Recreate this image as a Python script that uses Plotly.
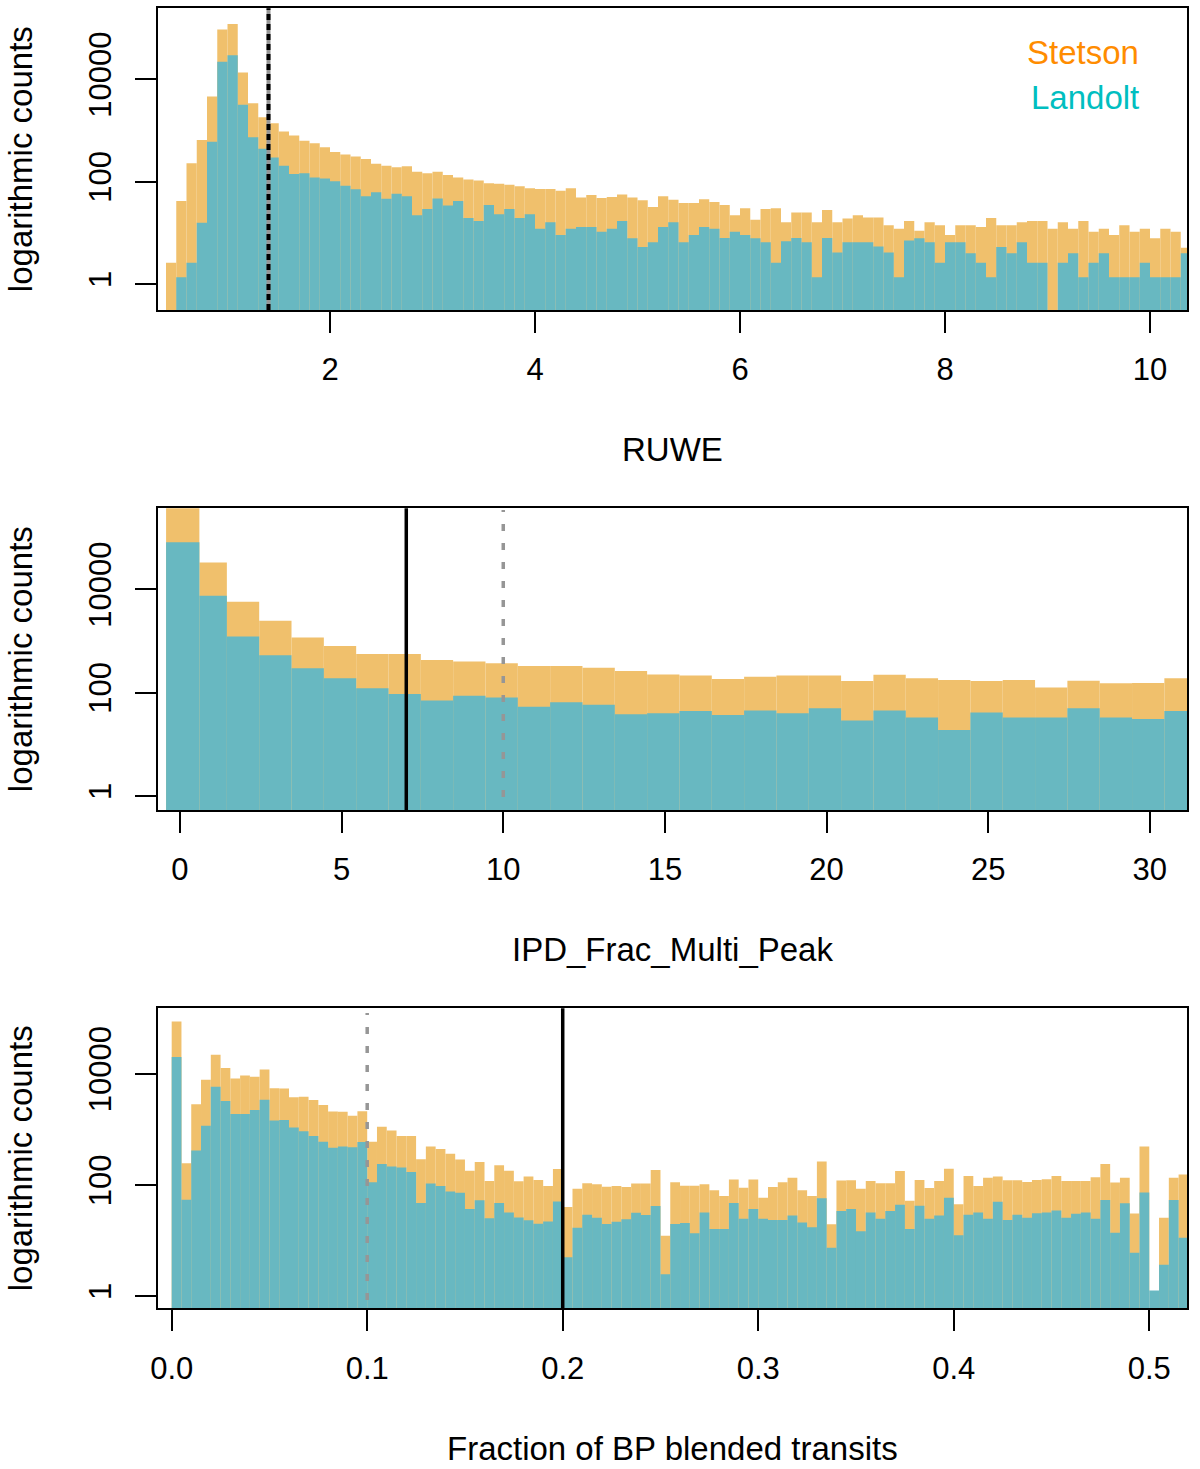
import plotly.graph_objects as go

# ---------------- Panel 1: RUWE (bin width 0.1 starting at 0.4) ----------------
ruwe_first_edge = 0.4
ruwe_bin_width = 0.1
stetson_ruwe = [2.6, 42, 228, 646, 4570, 93300, 120000, 13500, 3390, 1800,
                1380, 955, 794, 631, 562, 468, 380, 339, 309, 275,
                224, 204, 191, 200, 155, 145, 155, 135, 120, 110,
                105, 93, 91, 87, 81, 74, 72, 72, 66, 74,
                49, 55, 48, 50, 56, 49, 43, 32, 52, 44,
                38, 38, 45, 40, 35, 22, 30, 18, 29, 30,
                16, 25, 25, 16, 28, 16, 19, 22, 20, 20,
                14, 12, 17, 11, 16, 14, 9.1, 14, 14, 13,
                19.5, 14, 14, 16, 17, 17, 12, 16, 12, 17,
                10.5, 12, 9.1, 14, 10.5, 12, 7.8, 12, 10.5, 5.1]
landolt_ruwe = [None, 1.35, 2.6, 15.7, 600, 21900, 29500, 3160, 733, 436,
                295, 204, 141, 145, 120, 115, 102, 83, 71, 52,
                62, 46, 58, 52, 22, 29, 47, 34, 42, 19.5,
                17, 35, 23, 29, 19.5, 23, 12, 16, 9.1, 12,
                13, 13, 10.5, 12, 17, 7.8, 5.3, 6.5, 13, 16,
                6.5, 9.1, 13, 12, 7.9, 10.5, 9.1, 7.8, 6.5, 2.6,
                6.8, 7.9, 6.5, 1.35, 7.9, 4.1, 6.5, 6.5, 6.5, 5.4,
                4.1, 1.35, 7.1, 7.8, 6.5, 2.6, 6.5, 6.5, 4.0, 2.6,
                1.35, 5.3, 4.0, 6.5, 2.6, 2.6, None, 2.6, 4.0, 1.35,
                2.6, 4.0, 1.35, 1.35, 1.35, 2.6, 1.35, 1.35, 1.35, 4.0]
ruwe_cut = 1.4
ruwe_ticks = [2, 4, 6, 8, 10]

# ---------------- Panel 2: IPD_Frac_Multi_Peak ----------------
ipd_edges = [-0.43, 0.6] + [k + 0.45 for k in range(1, 32)]
stetson_ipd = [570000, 33000, 5740, 2460, 1170, 795, 560, 560, 427, 398,
               370, 326, 326, 303, 262, 225, 213, 183, 203, 213,
               213, 167, 222, 190, 175, 167, 175, 126, 170, 151,
               154, 190]
landolt_ipd = [81000, 7450, 1210, 525, 295, 190, 121, 94, 70, 87,
               80, 53, 65, 58, 38, 40, 44, 37, 45, 40,
               50, 29, 45, 33, 19, 41, 33, 33, 50, 33,
               31, 44]
ipd_cut_strict = 7
ipd_cut_loose = 10
ipd_ticks = [0, 5, 10, 15, 20, 25, 30]

# ---------------- Panel 3: Fraction of BP blended transits (bin 0.005) ----------------
blend_first_edge = 0.0
blend_bin_width = 0.005
stetson_blend = [87500, 246, 2840, 7800, 22000, 12800, 8250, 9300, 8850, 12000,
                 5500, 5450, 3800, 3850, 3370, 2750, 2100, 2080, 1750, 2130,
                 600, 1110, 950, 760, 760, 290, 490, 445, 365, 287,
                 180, 258, 118, 226, 180, 116, 141, 123, 96, 194,
                 40, 85, 107, 103, 93, 96, 92, 106, 106, 186,
                 12.2, 112, 97, 97, 103, 80, 63, 125, 89, 125,
                 59, 92, 112, 134, 80, 63, 263, 19.6, 120, 121,
                 85, 117, 107, 107, 178, 52, 123, 88, 117, 196,
                 45, 145, 96, 134, 141, 121, 121, 113, 123, 126,
                 145, 118, 118, 118, 137, 239, 110, 134, 30.5, 490,
                 None, 25.7, 134, 154]
landolt_blend = [20000, 54, 415, 1160, 5850, 3250, 1900, 1900, 2240, 3400,
                 1440, 1470, 1080, 925, 760, 600, 465, 490, 478, 590,
                 112, 239, 214, 205, 171, 47, 106, 96, 76, 72,
                 37, 53, 25, 47, 32, 26, 23, 20, 22, 50,
                 5, 17, 29, 25.5, 19.8, 21.8, 24, 31.4, 28.8, 41.8,
                 2.46, 19.8, 20.7, 13.5, 31.7, 16.1, 16.1, 47.4, 24.5, 37,
                 24.5, 23.4, 23.4, 28, 21, 17.3, 57.5, 7.4, 34, 37,
                 14.7, 31.7, 24.5, 34, 44, 16, 42, 24.7, 28, 59,
                 12.4, 29, 32, 24.7, 49.5, 23.4, 29, 25.7, 30.9, 31.7,
                 34.5, 25.5, 30.3, 32, 24.5, 53.7, 13.7, 46.8, 6.0, 72.6,
                 1.25, 3.66, 53.7, 11.2]
blend_cut_loose = 0.1
blend_cut_strict = 0.2
blend_ticks = [0.0, 0.1, 0.2, 0.3, 0.4, 0.5]
blend_ticktext = ["0.0", "0.1", "0.2", "0.3", "0.4", "0.5"]

count_ticks = [1, 100, 10000]
count_ticktext = ["1", "100", "10000"]

# ---------------- styling ----------------
ORANGE = "rgb(240,192,108)"
TEAL = "rgb(104,184,193)"
STETSON_TXT = "rgb(255,140,0)"
LANDOLT_TXT = "rgb(0,190,192)"
GRAY = "rgb(150,150,150)"
FONT = "Liberation Sans, Arial, sans-serif"
FS_TICK = 31
FS_TITLE = 33
W, H = 1200, 1469


def regular_edges(first, width, n):
    return [round(first + width * i, 6) for i in range(n + 1)]


def centers_widths(edges):
    c = [(edges[i] + edges[i + 1]) / 2 for i in range(len(edges) - 1)]
    w = [edges[i + 1] - edges[i] for i in range(len(edges) - 1)]
    return c, w


panels = [
    dict(edges=regular_edges(ruwe_first_edge, ruwe_bin_width, len(stetson_ruwe)),
         st=stetson_ruwe, la=landolt_ruwe),
    dict(edges=ipd_edges, st=stetson_ipd, la=landolt_ipd),
    dict(edges=regular_edges(blend_first_edge, blend_bin_width, len(stetson_blend)),
         st=stetson_blend, la=landolt_blend),
]

fig = go.Figure()
for i, p in enumerate(panels):
    xa = "x" if i == 0 else f"x{i+1}"
    ya = "y" if i == 0 else f"y{i+1}"
    c, w = centers_widths(p["edges"])
    fig.add_trace(go.Bar(x=c, y=p["st"], width=w, marker=dict(color=ORANGE, line=dict(width=0)),
                         name="Stetson", xaxis=xa, yaxis=ya, showlegend=False))
    fig.add_trace(go.Bar(x=c, y=p["la"], width=w, marker=dict(color=TEAL, line=dict(width=0)),
                         name="Landolt", xaxis=xa, yaxis=ya, showlegend=False))

# pixel geometry of the three plot boxes
x_dom = [158 / W, 1187 / W]
boxes_px = [(8.3, 310), (508.3, 810), (1008.3, 1308.3)]
y_doms = [[1 - b / H, 1 - t / H] for (t, b) in boxes_px]

x_ranges = [[0.322, 10.361], [-0.68, 31.15], [-0.007, 0.5193]]
y_ranges = [[-0.508, 5.385], [-0.271, 5.565], [-0.222, 5.18]]
x_tickvals = [ruwe_ticks, ipd_ticks, blend_ticks]
x_ticktext = [[str(t) for t in ruwe_ticks], [str(t) for t in ipd_ticks], blend_ticktext]

axis_common = dict(showline=True, linecolor="black", linewidth=2, mirror=True,
                   ticks="outside", ticklen=21, tickwidth=2, tickcolor="black",
                   showgrid=False, zeroline=False, automargin=False,
                   tickfont=dict(family=FONT, size=FS_TICK, color="black"))

layout = dict(width=W, height=H, margin=dict(l=0, r=0, t=0, b=0, autoexpand=False),
              paper_bgcolor="white", plot_bgcolor="white", barmode="overlay",
              showlegend=False)
for i in range(3):
    sx = "" if i == 0 else str(i + 1)
    layout[f"xaxis{sx}"] = dict(domain=x_dom, range=x_ranges[i], anchor=f"y{sx}",
                                tickmode="array", tickvals=x_tickvals[i], ticktext=x_ticktext[i],
                                ticklabelstandoff=10, **axis_common)
    layout[f"yaxis{sx}"] = dict(domain=y_doms[i], range=y_ranges[i], type="log", anchor=f"x{sx}",
                                tickmode="array", tickvals=count_ticks, ticktext=count_ticktext,
                                tickangle=-90, ticklabelstandoff=12, **axis_common)
fig.update_layout(**layout)

# threshold lines
shapes = []
shapes.append(dict(type="line", xref="x", yref="y domain", x0=ruwe_cut, x1=ruwe_cut, y0=0, y1=1,
                   line=dict(color=GRAY, width=4)))
shapes.append(dict(type="line", xref="x", yref="y domain", x0=ruwe_cut, x1=ruwe_cut, y0=0, y1=1,
                   line=dict(color="black", width=4, dash="6px,4px")))
shapes.append(dict(type="line", xref="x2", yref="y2 domain", x0=ipd_cut_strict, x1=ipd_cut_strict,
                   y0=0, y1=1, line=dict(color="black", width=3.5)))
shapes.append(dict(type="line", xref="x2", yref="y2 domain", x0=ipd_cut_loose, x1=ipd_cut_loose,
                   y0=0.043, y1=0.994, line=dict(color=GRAY, width=3.5, dash="7px,12px")))
shapes.append(dict(type="line", xref="x3", yref="y3 domain", x0=blend_cut_loose, x1=blend_cut_loose,
                   y0=0.028, y1=0.984, line=dict(color=GRAY, width=3.5, dash="7px,12px")))
shapes.append(dict(type="line", xref="x3", yref="y3 domain", x0=blend_cut_strict, x1=blend_cut_strict,
                   y0=0, y1=1, line=dict(color="black", width=3.5)))
fig.update_layout(shapes=shapes)

# axis titles and legend text
xc = (158 + 1187) / 2 / W
ann = []
for txt, ypx in [("RUWE", 449), ("IPD_Frac_Multi_Peak", 949), ("Fraction of BP blended transits", 1448)]:
    ann.append(dict(text=txt, xref="paper", yref="paper", x=xc, y=1 - ypx / H,
                    xanchor="center", yanchor="middle", showarrow=False,
                    font=dict(family=FONT, size=FS_TITLE, color="black")))
for (t, b) in boxes_px:
    ann.append(dict(text="logarithmic counts", xref="paper", yref="paper", x=20 / W,
                    y=1 - (t + b) / 2 / H, xanchor="center", yanchor="middle", textangle=-90,
                    showarrow=False, font=dict(family=FONT, size=FS_TITLE, color="black")))
ann.append(dict(text="Stetson", xref="paper", yref="paper", x=1141 / W, y=1 - 52 / H,
                xanchor="right", yanchor="middle", showarrow=False,
                font=dict(family=FONT, size=FS_TITLE, color=STETSON_TXT)))
ann.append(dict(text="Landolt", xref="paper", yref="paper", x=1141 / W, y=1 - 98 / H,
                xanchor="right", yanchor="middle", showarrow=False,
                font=dict(family=FONT, size=FS_TITLE, color=LANDOLT_TXT)))
fig.update_layout(annotations=ann)

fig.write_html("out.html", config={"displayModeBar": False},
               post_script="document.body.style.margin='0';")
